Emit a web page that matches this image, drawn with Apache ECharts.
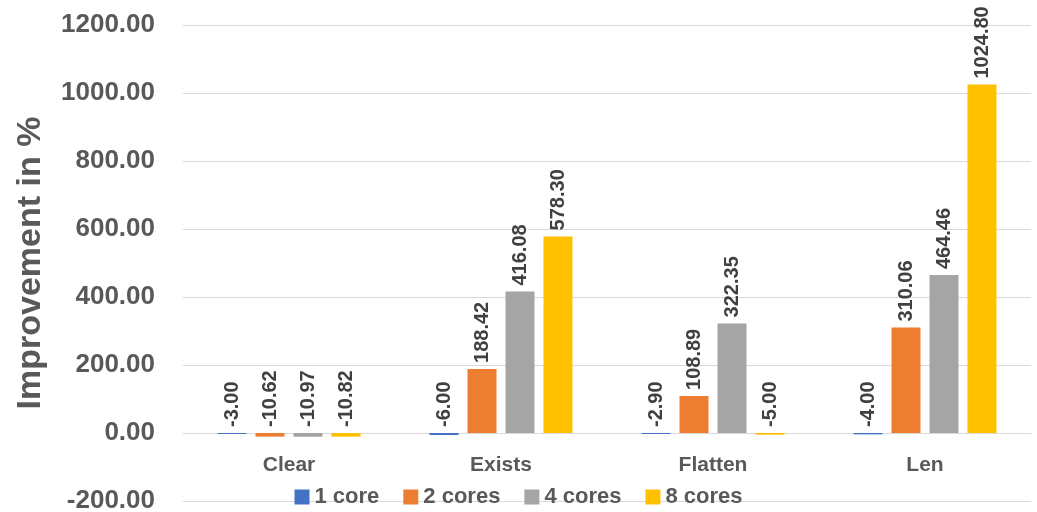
<!DOCTYPE html>
<html>
<head>
<meta charset="utf-8">
<script src="https://cdn.jsdelivr.net/npm/echarts@6/dist/echarts.min.js"></script>
<style>
html,body{margin:0;padding:0;background:#fff;}
#chart{width:1037px;height:512px;}
</style>
</head>
<body>
<div id="chart"></div>
<script>
const categories = ['Clear', 'Exists', 'Flatten', 'Len'];
const seriesNames = ['1 core', '2 cores', '4 cores', '8 cores'];
const core1 = [-3.00, -6.00, -2.90, -4.00];
const core2 = [-10.62, 188.42, 108.89, 310.06];
const core4 = [-10.97, 416.08, 322.35, 464.46];
const core8 = [-10.82, 578.30, -5.00, 1024.80];
const colors = ['#4472C4', '#ED7D31', '#A5A5A5', '#FFC000'];
const yTitle = 'Improvement in %';

const FONT = '"Liberation Sans", Arial, sans-serif';
const chart = echarts.init(document.getElementById('chart'));
const values = [core1, core2, core4, core8];

chart.setOption({
  animation: false,
  backgroundColor: '#fff',
  grid: { left: 183, right: 6, top: 25, bottom: 11, containLabel: false, outerBoundsMode: 'none' },
  legend: {
    left: 'center', top: 481,
    itemWidth: 15, itemHeight: 15, itemGap: 24,
    icon: 'rect',
    textStyle: { fontFamily: FONT, fontSize: 22, fontWeight: 'bold', color: '#595959' },
    data: seriesNames
  },
  xAxis: {
    type: 'category',
    data: categories,
    offset: -68,
    axisLine: { show: true, onZero: false, lineStyle: { color: '#d9d9d9', width: 1 } },
    axisTick: { show: false },
    axisLabel: { margin: 22, fontFamily: FONT, fontSize: 21, fontWeight: 'bold', color: '#595959' }
  },
  yAxis: {
    type: 'value',
    min: -200, max: 1200, interval: 200,
    name: yTitle,
    nameLocation: 'middle',
    nameGap: 135,
    nameTextStyle: { fontFamily: FONT, fontSize: 34, fontWeight: 'bold', color: '#595959' },
    axisLine: { show: false },
    axisTick: { show: false },
    splitLine: { lineStyle: { color: '#d9d9d9', width: 1 } },
    axisLabel: {
      margin: 28, fontFamily: FONT, fontSize: 26, fontWeight: 'bold', color: '#595959',
      formatter: v => v.toFixed(2)
    }
  },
  series: seriesNames.map((name, i) => ({
    name: name,
    type: 'bar',
    data: values[i],
    barWidth: 29,
    barGap: '31%',
    itemStyle: { color: colors[i] },
    label: {
      show: true,
      position: 'top',
      rotate: 90,
      align: 'left',
      verticalAlign: 'middle',
      distance: 6,
      fontFamily: FONT,
      fontSize: 20,
      fontWeight: 'bold',
      color: '#404040',
      formatter: p => p.value.toFixed(2)
    }
  }))
});
</script>
</body>
</html>
